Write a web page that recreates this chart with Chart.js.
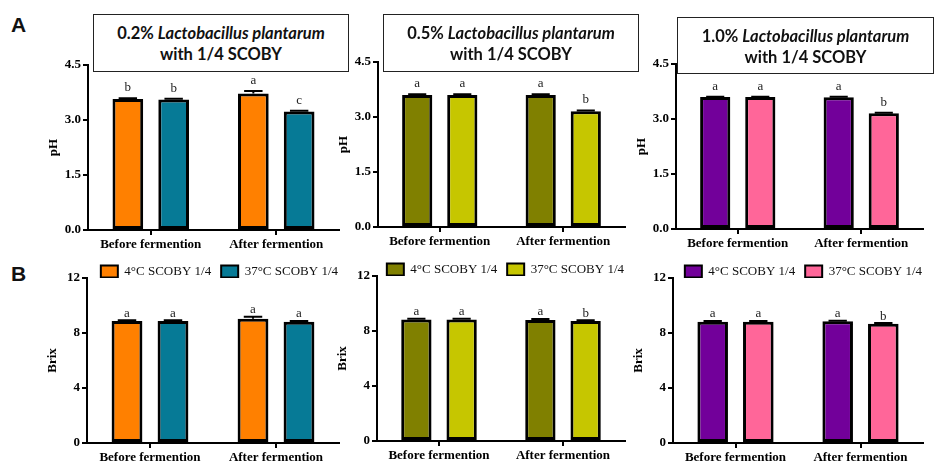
<!DOCTYPE html>
<html>
<head>
<meta charset="utf-8">
<script src="https://cdn.jsdelivr.net/npm/chart.js@4.4.0/dist/chart.umd.min.js"></script>
<style>
  body { margin: 0; background: #fff; width: 935px; height: 463px; position: relative; overflow: hidden; }
  canvas { position: absolute; }
  .tbox { position: absolute; border: 1px solid #222; background: #fff; box-sizing: border-box;
          font: bold 16.5px Lato, sans-serif; text-align: center; line-height: 21px; padding-top: 8px;
          z-index: 2; color: #111; }
  .tag { position: absolute; font: bold 21px "Liberation Sans", Arial, sans-serif; color: #111; }
</style>
</head>
<body>
<div class="tag" style="left:11px;top:13px">A</div>
<div class="tag" style="left:11px;top:262px">B</div>

<div class="tbox" style="left:93px;top:14px;width:256px;height:58px">
  <div>0.2% <i>Lactobacillus plantarum</i></div><div>with 1/4 SCOBY</div>
</div>
<div class="tbox" style="left:383px;top:14px;width:256px;height:58px">
  <div>0.5% <i>Lactobacillus plantarum</i></div><div>with 1/4 SCOBY</div>
</div>
<div class="tbox" style="left:677px;top:17px;width:257px;height:57px">
  <div>1.0% <i>Lactobacillus plantarum</i></div><div>with 1/4 SCOBY</div>
</div>

<canvas id="a1" width="303" height="256" style="left:42px;top:0px"></canvas>
<canvas id="a2" width="299" height="253" style="left:332px;top:0px"></canvas>
<canvas id="a3" width="299" height="255" style="left:630px;top:0px"></canvas>
<canvas id="b1" width="304" height="219" style="left:41px;top:250px"></canvas>
<canvas id="b2" width="300" height="217" style="left:331px;top:250px"></canvas>
<canvas id="b3" width="302" height="219" style="left:627px;top:250px"></canvas>

<script>
// categories and series
const categories = ['Before fermention', 'After fermention'];
const seriesNames = ['4°C SCOBY 1/4', '37°C SCOBY 1/4'];
const phTicks = [0, 1.5, 3.0, 4.5];
const brixTicks = [0, 4, 8, 12];

// pH (panel A)
const ph02_4C = [3.57, 3.72];
const ph02_37C = [3.56, 3.23];
const ph05_4C = [3.60, 3.60];
const ph05_37C = [3.60, 3.16];
const ph10_4C = [3.60, 3.59];
const ph10_37C = [3.60, 3.16];

// Brix (panel B)
const brix02_4C = [8.88, 9.03];
const brix02_37C = [8.88, 8.82];
const brix05_4C = [8.84, 8.80];
const brix05_37C = [8.84, 8.73];
const brix10_4C = [8.82, 8.85];
const brix10_37C = [8.82, 8.68];

// standard deviations
const phErr02_4C = [0.02, 0.07];
const phErr02_37C = [0.02, 0.02];
const phErr05_4C = [0.02, 0.02];
const phErr05_37C = [0.02, 0.02];
const phErr10_4C = [0.01, 0.02];
const phErr10_37C = [0.01, 0.01];
const brixErr02_4C = [0.05, 0.15];
const brixErr02_37C = [0.05, 0.05];
const brixErr05_4C = [0.05, 0.08];
const brixErr05_37C = [0.05, 0.05];
const brixErr10_4C = [0.06, 0.04];
const brixErr10_37C = [0.06, 0.04];

// significance letters
const phLet02_4C = ['b', 'a'], phLet02_37C = ['b', 'c'];
const phLet05_4C = ['a', 'a'], phLet05_37C = ['a', 'b'];
const phLet10_4C = ['a', 'a'], phLet10_37C = ['a', 'b'];
const brixLet02_4C = ['a', 'a'], brixLet02_37C = ['a', 'a'];
const brixLet05_4C = ['a', 'a'], brixLet05_37C = ['a', 'b'];
const brixLet10_4C = ['a', 'a'], brixLet10_37C = ['a', 'b'];

const serif = '"Liberation Serif", "Times New Roman", serif';

// error bars + letters above each bar
const marks = {
  id: 'marks',
  afterDatasetsDraw(chart) {
    const ctx = chart.ctx;
    const y = chart.scales.y;
    chart.data.datasets.forEach((ds, di) => {
      chart.getDatasetMeta(di).data.forEach((bar, i) => {
        const top = y.getPixelForValue(ds.data[i] + ds.err[i]);
        const half = bar.width * 0.3;
        ctx.save();
        ctx.strokeStyle = '#000';
        ctx.lineWidth = 2;
        ctx.beginPath();
        ctx.moveTo(bar.x, bar.y);
        ctx.lineTo(bar.x, top);
        ctx.moveTo(bar.x - half, top);
        ctx.lineTo(bar.x + half, top);
        ctx.stroke();
        ctx.fillStyle = '#222';
        ctx.font = '13px ' + serif;
        ctx.textAlign = 'center';
        ctx.fillText(ds.letters[i], bar.x, top - 7);
        ctx.restore();
      });
    });
  }
};

// legend sits right on top of the axis, flush with its right end
const tightLegend = {
  id: 'tightLegend',
  beforeUpdate(chart) {
    const lg = chart.legend;
    if (lg && !lg._tight) {
      const fit = lg.fit;
      const draw = lg.draw;
      lg.fit = function () { fit.call(this); if (this.height) this.height -= 10; };
      lg.draw = function () {
        this.ctx.save();
        this.ctx.translate(9, 0);
        draw.call(this);
        this.ctx.restore();
      };
      lg._tight = true;
    }
  }
};

function makePanel(id, title, ticks, decimals, padTop, showLegend, d4, d37, e4, e37, l4, l37, c4, c37) {
  new Chart(document.getElementById(id), {
    type: 'bar',
    data: {
      labels: categories,
      datasets: [
        { label: seriesNames[0], data: d4, err: e4, letters: l4, backgroundColor: c4,
          borderColor: '#000', borderWidth: 3, borderSkipped: false },
        { label: seriesNames[1], data: d37, err: e37, letters: l37, backgroundColor: c37,
          borderColor: '#000', borderWidth: 3, borderSkipped: false }
      ]
    },
    options: {
      responsive: false,
      animation: false,
      layout: { padding: { top: padTop, right: 6, left: 0, bottom: 0 } },
      datasets: { bar: { categoryPercentage: 0.73, barPercentage: 0.67 } },
      plugins: {
        tooltip: { enabled: false },
        legend: {
          display: showLegend,
          align: 'end',
          labels: {
            color: '#111',
            font: { family: serif, size: 13 },
            boxWidth: 17,
            boxHeight: 12,
            padding: 10,
            generateLabels: chart => Chart.defaults.plugins.legend.labels.generateLabels(chart)
              .map(item => ({ ...item, lineWidth: 2 }))
          }
        }
      },
      scales: {
        x: {
          grid: { offset: false, drawOnChartArea: false, drawTicks: true, tickLength: 5, color: '#000', lineWidth: 2 },
          border: { color: '#000', width: 2 },
          ticks: { color: '#000', font: { family: serif, size: 13, weight: 'bold' }, padding: 2, maxRotation: 0 },
          afterFit: s => { s.height = 26; }
        },
        y: {
          min: 0,
          max: ticks[ticks.length - 1],
          afterBuildTicks: s => { s.ticks = ticks.map(v => ({ value: v })); },
          grid: { drawOnChartArea: false, drawTicks: true, tickLength: 5, color: '#000', lineWidth: 2 },
          border: { color: '#000', width: 2 },
          ticks: { color: '#000', font: { family: serif, size: 13, weight: 'bold' }, padding: 2,
                   callback: v => Number(v).toFixed(decimals) },
          title: { display: true, text: title, color: '#000', font: { family: serif, size: 13, weight: 'bold' } },
          afterFit: s => { s.width = 46; }
        }
      }
    },
    plugins: [tightLegend, marks]
  });
}

const orange = '#FF8000', teal = '#067A96';
const olive = '#808000', lime = '#C6C600';
const purple = '#72009A', pink = '#FF6699';

makePanel('a1', 'pH', phTicks, 1, 65, false, ph02_4C, ph02_37C, phErr02_4C, phErr02_37C, phLet02_4C, phLet02_37C, orange, teal);
makePanel('a2', 'pH', phTicks, 1, 62, false, ph05_4C, ph05_37C, phErr05_4C, phErr05_37C, phLet05_4C, phLet05_37C, olive, lime);
makePanel('a3', 'pH', phTicks, 1, 64, false, ph10_4C, ph10_37C, phErr10_4C, phErr10_37C, phLet10_4C, phLet10_37C, purple, pink);
makePanel('b1', 'Brix', brixTicks, 0, 5, true, brix02_4C, brix02_37C, brixErr02_4C, brixErr02_37C, brixLet02_4C, brixLet02_37C, orange, teal);
makePanel('b2', 'Brix', brixTicks, 0, 3, true, brix05_4C, brix05_37C, brixErr05_4C, brixErr05_37C, brixLet05_4C, brixLet05_37C, olive, lime);
makePanel('b3', 'Brix', brixTicks, 0, 5, true, brix10_4C, brix10_37C, brixErr10_4C, brixErr10_37C, brixLet10_4C, brixLet10_37C, purple, pink);
</script>
</body>
</html>
